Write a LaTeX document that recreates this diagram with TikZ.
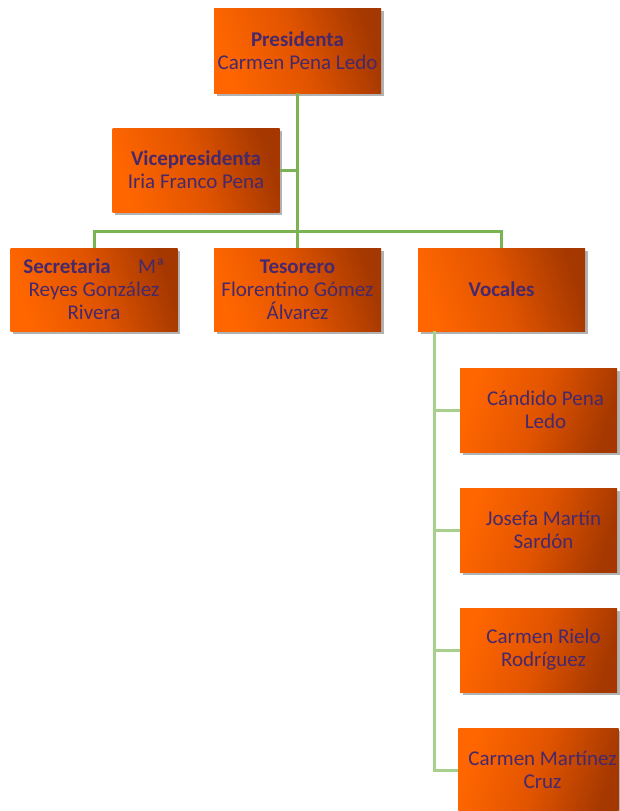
\documentclass[tikz,border=0pt]{standalone}
\usepackage{fontspec}
\setmainfont{Carlito}
\usetikzlibrary{shadows}
\definecolor{obright}{RGB}{255,102,0}
\definecolor{omid}{RGB}{225,84,0}
\definecolor{odark}{RGB}{165,56,0}
\definecolor{txtc}{RGB}{70,40,108}
\definecolor{gmain}{RGB}{122,180,82}
\definecolor{glight}{RGB}{168,208,141}
\pgfdeclarehorizontalshading{orsh}{100bp}{color(0bp)=(obright); color(25bp)=(obright); color(50bp)=(omid); color(75bp)=(odark); color(100bp)=(odark)}
\tikzset{
  box/.style={rectangle, minimum width=167pt, minimum height=84pt, inner sep=2pt,
    text=txtc, align=center, font=\fontsize{21}{23}\selectfont,
    drop shadow={shadow xshift=2.5pt, shadow yshift=-3pt, fill=black, opacity=0.3}},
  mainbox/.style={box, shade, shading=orsh, shading angle=18},
  vocbox/.style={box, minimum width=157pt, shade, shading=orsh, shading angle=-18},
  conn/.style={draw=gmain, line width=3pt},
  vconn/.style={draw=glight, line width=3pt}
}
\begin{document}
\begin{tikzpicture}[x=1pt,y=-1pt]
\useasboundingbox (0,0) rectangle (619,811);
\fill[white] (0,0) rectangle (619,811);
\node[mainbox, minimum height=85pt] (pres) at (297.5,50.5) {\textbf{Presidenta}\\Carmen Pena Ledo};
\node[mainbox] (vice) at (196,170) {\textbf{Vicepresidenta}\\Iria Franco Pena};
\node[mainbox, minimum height=83pt] (sec) at (94,289.5) {\textbf{Secretaria}\hspace{1.3em}Mª\\Reyes González\\Rivera};
\node[mainbox, minimum height=83pt] (teso) at (297.5,289.5) {\textbf{Tesorero}\\Florentino Gómez\\Álvarez};
\node[mainbox, minimum height=83pt] (voc) at (501.5,289.5) {\textbf{Vocales}};
\node[vocbox] (v1) at (538.5,410) {\hspace*{14pt}Cándido Pena\\\hspace*{14pt}Ledo};
\node[vocbox] (v2) at (538.5,530) {\hspace*{10pt}Josefa Martín\\\hspace*{10pt}Sardón};
\node[vocbox] (v3) at (538.5,650) {\hspace*{10pt}Carmen Rielo\\\hspace*{10pt}Rodríguez};
\node[vocbox] (v4) at (538.5,770) {\hspace*{8pt}Carmen Martínez\\\hspace*{8pt}Cruz};
\path[conn] (pres.south) -- (teso.north);
\path[conn] (vice.east) -- (vice.east -| pres.south);
\path[conn] (sec.north) |- ([yshift=16pt]teso.north) -| (voc.north);
\coordinate (vtop) at (434,331);
\path[vconn] (vtop) |- (v4.west);
\path[vconn] (v1.west) -- (v1.west -| vtop);
\path[vconn] (v2.west) -- (v2.west -| vtop);
\path[vconn] (v3.west) -- (v3.west -| vtop);
\end{tikzpicture}
\end{document}
